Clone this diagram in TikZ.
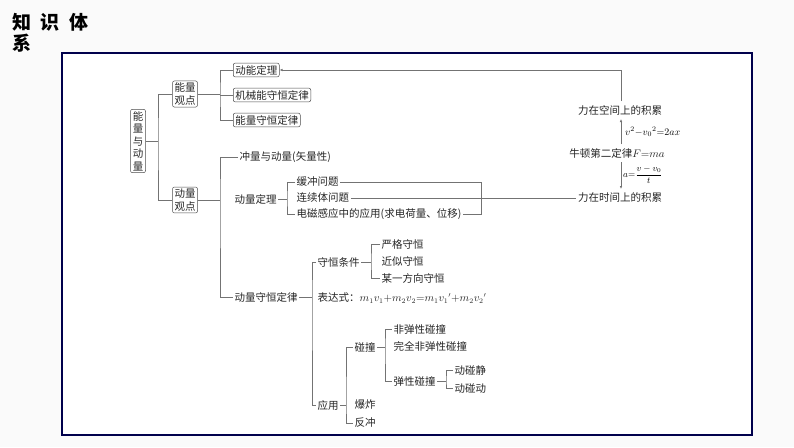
\documentclass[tikz,border=0pt]{standalone}
\usepackage{fontspec}
\setmainfont{Noto Sans CJK SC}
\usetikzlibrary{arrows.meta}
\begin{document}
\begin{tikzpicture}[x=1pt,y=-1pt,
  t/.style={anchor=west,inner sep=1.5pt,font=\fontsize{10.5}{12.5}\selectfont,text=black!85},
  bx/.style={t,draw=black!70,rounded corners=2pt,inner sep=2pt,line width=0.5pt},
  ln/.style={draw=black!55,line width=0.6pt},
  ar/.style={ln,-{Latex[length=3pt,width=2.5pt]}}]
\useasboundingbox (0,0) rectangle (794,447);
\fill[black!2] (0,0) rectangle (794,447);
\node[anchor=west,font=\fontsize{19}{21}\selectfont\bfseries,inner sep=0] (t1) at (12,22) {知\hspace{0.5em}识\hspace{0.5em}体};
\node[anchor=west,font=\fontsize{19}{21}\selectfont\bfseries,inner sep=0] (t2) at (12,43) {系};
\draw[line width=1.6pt,draw=blue!30!black,fill=white] (62,53) rectangle (752,435);
% root
\node[bx,anchor=center,align=center,text width=11pt,inner sep=2pt] (root) at (138,141) {能\\量\\与\\动\\量};
\node[bx,anchor=center,align=center] (ne) at (185,94) {能量\\观点};
\node[bx,anchor=center,align=center] (dl) at (185,200) {动量\\观点};
\draw[ln] (root.east) -- (158,141);
\draw[ln] (ne.west) -| (158,141) |- (dl.west);
% energy
\node[bx] (dn) at (233,70) {动能定理};
\node[bx] (jx) at (233,95) {机械能守恒定律};
\node[bx] (nl) at (233,120) {能量守恒定律};
\draw[ln] (ne.east) -- (220,94);
\draw[ln] (dn.west) -| (220,94) |- (nl.west);
\draw[ln] (jx.west) -- (220,95);
% momentum
\node[t] (cl) at (238,157) {冲量与动量(矢量性)};
\node[t] (dd) at (233,199) {动量定理};
\node[t] (ds) at (233,297) {动量守恒定律};
\draw[ln] (dl.east) -- (220,200);
\draw[ln] (cl.west) -| (220,200) |- (ds.west);
\node[t] (hc) at (295,182) {缓冲问题};
\node[t] (lx) at (295,198) {连续体问题};
\node[t] (dc) at (295,214) {电磁感应中的应用(求电荷量、位移)};
\draw[ln] (dd.east) -- (287,199);
\draw[ln] (hc.west) -| (287,199) |- (dc.west);
\draw[ln] (hc.east) -- (481,182) -- (481,214) -- (dc.east);
% right
\node[t,anchor=center] (kj) at (620,110) {力在空间上的积累};
\node[t,anchor=center] (nd) at (617,153) {牛顿第二定律$F{=}ma$};
\node[t,anchor=center] (sj) at (620,198) {力在时间上的积累};
\draw[ln] (lx.east) -- (sj.west);
\draw[ar] (621,101) |- (dn.east);
\draw[ar] (621,144) -- (621,119);
\draw[ar] (621,162) -- (621,189);
\node[anchor=west,inner sep=1pt,font=\fontsize{10}{11}\selectfont] (f1) at (624,132) {$v^2{-}v_0{}^2{=}2ax$};
\node[anchor=west,inner sep=0pt,font=\fontsize{9}{10}\selectfont] (f2) at (623,175) {$a{=}{\displaystyle\frac{v-v_0}{t}}$};
% conservation
\node[t] (tj) at (316,262) {守恒条件};
\node[t] (bd) at (316,298) {表达式：$m_1v_1{+}m_2v_2{=}m_1v_1{'}{+}m_2v_2{'}$};
\node[t] (yy) at (316,405) {应用};
\draw[ln] (ds.east) -- (312,297);
\draw[ln] (tj.west) -| (312,297) |- (yy.west);
\node[t] (yg) at (380,244) {严格守恒};
\node[t] (js) at (380,261) {近似守恒};
\node[t] (mf) at (380,278) {某一方向守恒};
\draw[ln] (tj.east) -- (371,262);
\draw[ln] (yg.west) -| (371,262) |- (mf.west);
\node[t] (pz) at (353,347) {碰撞};
\node[t] (bz) at (353,405) {爆炸};
\node[t] (fc) at (353,423) {反冲};
\draw[ln] (yy.east) -- (346,405);
\draw[ln] (pz.west) -| (346,405) |- (fc.west);
\node[t] (ft) at (392,329) {非弹性碰撞};
\node[t] (wq) at (392,346) {完全非弹性碰撞};
\node[t] (tx) at (392,381) {弹性碰撞};
\draw[ln] (pz.east) -- (385,347);
\draw[ln] (ft.west) -| (385,347) |- (tx.west);
\node[t] (dj) at (453,370) {动碰静};
\node[t] (dk) at (453,388) {动碰动};
\draw[ln] (tx.east) -- (446,381);
\draw[ln] (dj.west) -| (446,381) |- (dk.west);
\end{tikzpicture}
\end{document}
